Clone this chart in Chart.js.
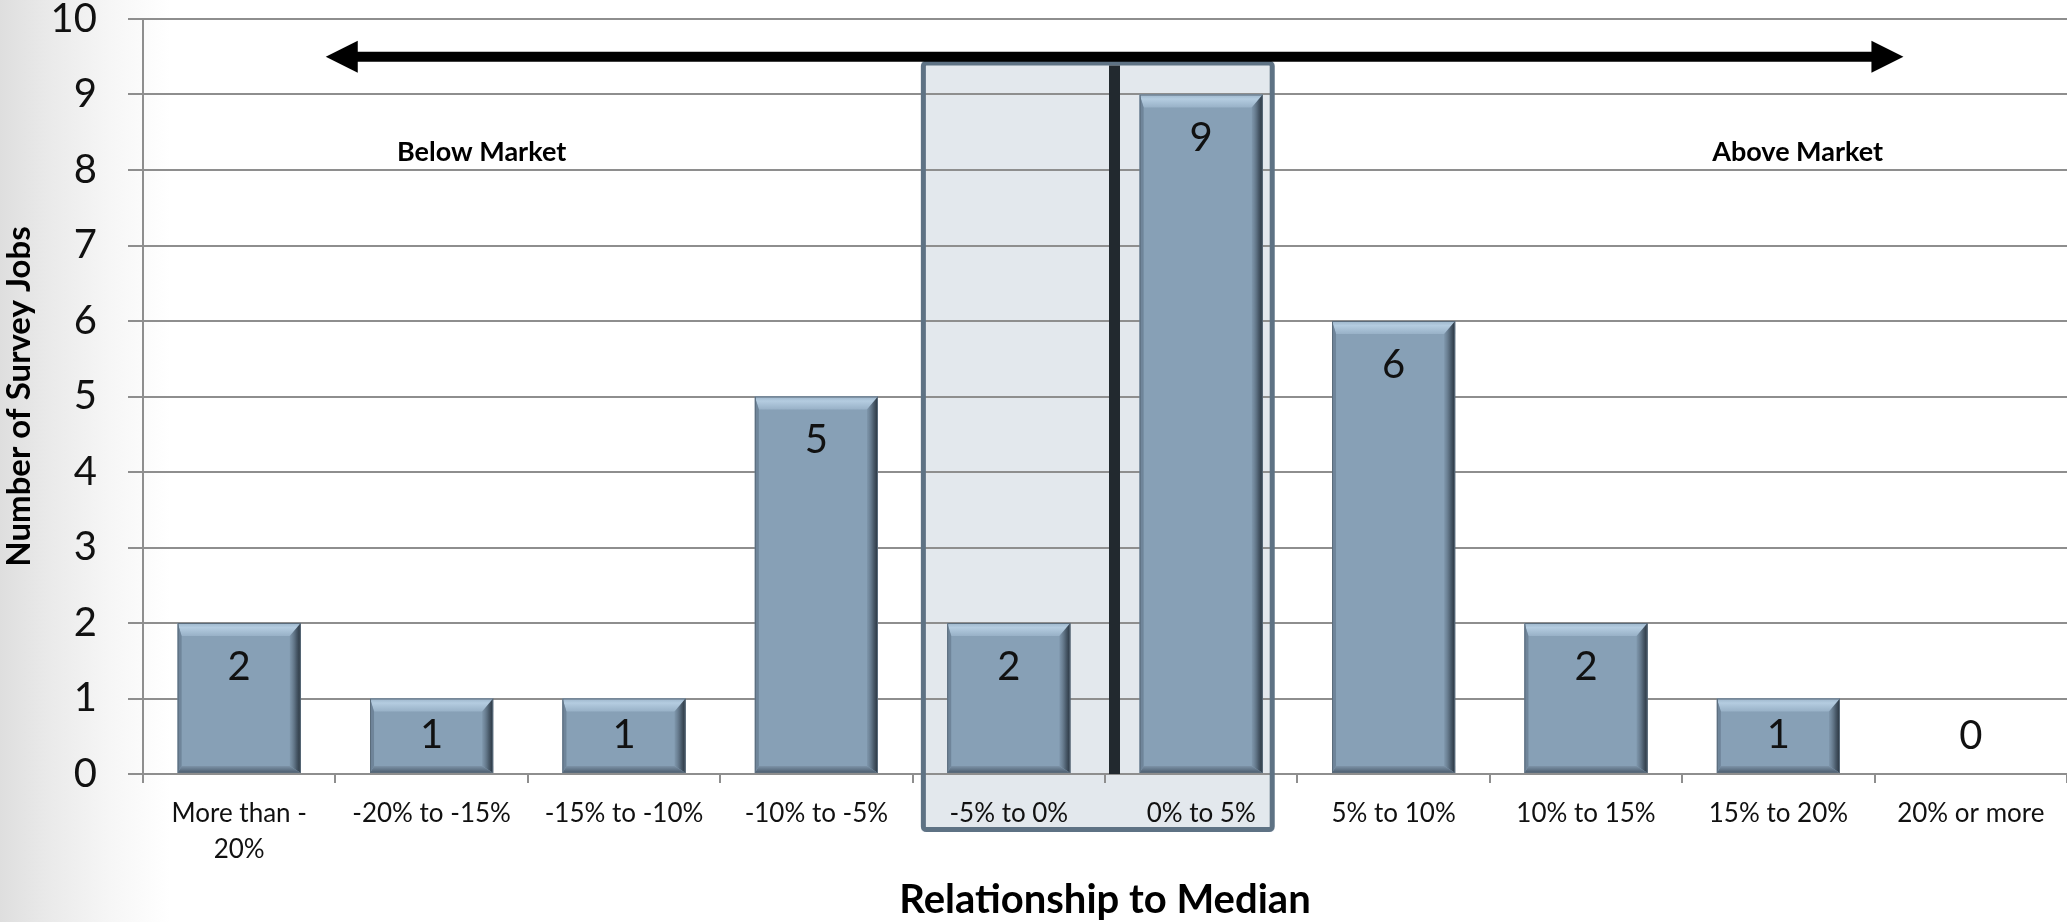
<!DOCTYPE html>
<html>
<head>
<meta charset="utf-8">
<script src="https://cdn.jsdelivr.net/npm/chart.js@4.4.0/dist/chart.umd.min.js"></script>
<style>
  html, body { margin: 0; padding: 0; }
  body {
    width: 2067px; height: 922px; overflow: hidden;
    background: linear-gradient(90deg, #dedede 0px, #e9e9e9 45px, #f6f6f6 110px, #ffffff 170px);
  }
  #wrap { width: 2067px; height: 922px; }
</style>
</head>
<body>
<div id="wrap"><canvas id="jobsChart" width="2067" height="922"></canvas></div>
<script>
// categories along the x axis (relationship to market median)
const categories = [
  ['More than -', '20%'], '-20% to -15%', '-15% to -10%', '-10% to -5%', '-5% to 0%',
  '0% to 5%', '5% to 10%', '10% to 15%', '15% to 20%', '20% or more'
];
// number of survey jobs per band
const jobCounts = [2, 1, 1, 5, 2, 9, 6, 2, 1, 0];
const yTicks = [0, 1, 2, 3, 4, 5, 6, 7, 8, 9, 10];

// annotation placement (in category index / value units)
const bandFrom = 4, bandTo = 5;        // highlighted "near median" bands
const arrowLevel = 9.5;
const arrowFrom = 0.45, arrowTo = 8.65;
const noteLevel = 8.23;
const notes = [
  { text: 'Below Market', at: 1.26 },
  { text: 'Above Market', at: 8.1 }
];

const FONT = 'Lato, "Open Sans", sans-serif';

// light box behind the two bands around the median
const bandBackdrop = {
  id: 'bandBackdrop',
  beforeDraw(chart) {
    const b = bandBox(chart);
    const ctx = chart.ctx;
    ctx.save();
    ctx.fillStyle = '#e3e8ed';
    ctx.beginPath();
    ctx.roundRect(b.l, b.t, b.r - b.l, b.b - b.t, 4);
    ctx.fill();
    ctx.restore();
  }
};

function bandBox(chart) {
  const xs = chart.scales.x, ys = chart.scales.y;
  const c4 = xs.getPixelForValue(bandFrom), c5 = xs.getPixelForValue(bandTo);
  const cw = c5 - c4;
  return {
    l: c4 - 0.457 * cw,
    r: c5 + 0.382 * cw,
    t: ys.getPixelForValue(9.45),
    b: ys.bottom + 58,
    mid: (c4 + c5) / 2 + 10
  };
}

// bevel look on the bars, value labels and the annotations
const decorations = {
  id: 'decorations',
  afterDatasetsDraw(chart) {
    const ctx = chart.ctx;
    const xs = chart.scales.x, ys = chart.scales.y;
    const meta = chart.getDatasetMeta(0);

    meta.data.forEach((bar, i) => {
      const p = bar.getProps(['x', 'y', 'base', 'width']);
      const l = p.x - p.width / 2, r = p.x + p.width / 2, t = p.y, b = p.base;
      if (b - t > 2) {
        const d = 13, dr = 11, db = 7, dl = 4;
        ctx.save();
        // top bevel
        let g = ctx.createLinearGradient(0, t, 0, t + d);
        g.addColorStop(0, '#9db6cb');
        g.addColorStop(0.35, '#b4cce0');
        g.addColorStop(1, '#98b1c7');
        ctx.fillStyle = g;
        ctx.beginPath();
        ctx.moveTo(l, t); ctx.lineTo(r, t); ctx.lineTo(r - dr, t + d); ctx.lineTo(l + dl, t + d);
        ctx.closePath(); ctx.fill();
        // right bevel
        g = ctx.createLinearGradient(r - dr, 0, r, 0);
        g.addColorStop(0, 'rgba(120,143,164,0.6)');
        g.addColorStop(0.6, '#4b5c6c');
        g.addColorStop(1, '#27323d');
        ctx.fillStyle = g;
        ctx.beginPath();
        ctx.moveTo(r, t); ctx.lineTo(r, b); ctx.lineTo(r - dr, b - db); ctx.lineTo(r - dr, t + d);
        ctx.closePath(); ctx.fill();
        // bottom bevel
        g = ctx.createLinearGradient(0, b - db, 0, b);
        g.addColorStop(0, '#7d93a8');
        g.addColorStop(1, '#4a5b6c');
        ctx.fillStyle = g;
        ctx.beginPath();
        ctx.moveTo(l, b); ctx.lineTo(r, b); ctx.lineTo(r - dr, b - db); ctx.lineTo(l + dl, b - db);
        ctx.closePath(); ctx.fill();
        // left bevel
        ctx.fillStyle = '#6f859a';
        ctx.beginPath();
        ctx.moveTo(l, t); ctx.lineTo(l + dl, t + d); ctx.lineTo(l + dl, b - db); ctx.lineTo(l, b);
        ctx.closePath(); ctx.fill();
        // outline
        ctx.strokeStyle = '#5a6b7b';
        ctx.lineWidth = 1;
        ctx.strokeRect(l + 0.5, t + 0.5, r - l - 1, b - t - 1);
        ctx.restore();
      }
      // value label, inside the end of the bar
      ctx.save();
      ctx.font = '40px ' + FONT;
      ctx.fillStyle = '#111111';
      ctx.textAlign = 'center';
      ctx.textBaseline = 'middle';
      const ly = Math.min(t + 44, b - 38);
      ctx.fillText(String(jobCounts[i]), p.x, ly);
      ctx.restore();
    });

    const box = bandBox(chart);
    ctx.save();
    // band outline
    ctx.strokeStyle = '#5e7284';
    ctx.lineWidth = 5;
    ctx.beginPath();
    ctx.roundRect(box.l + 2.5, box.t + 2.5, box.r - box.l - 5, box.b - box.t - 5, 3);
    ctx.stroke();
    // median line
    ctx.fillStyle = '#22292f';
    ctx.fillRect(box.mid - 6, box.t + 5, 11, ys.bottom - box.t - 5);

    // double headed arrow
    const ay = ys.getPixelForValue(arrowLevel);
    const ax1 = xs.getPixelForValue(arrowFrom), ax2 = xs.getPixelForValue(arrowTo);
    const hl = 32, hh = 16, lw = 10;
    ctx.fillStyle = '#000000';
    ctx.fillRect(ax1 + hl - 2, ay - lw / 2, ax2 - ax1 - 2 * hl + 4, lw);
    ctx.beginPath();
    ctx.moveTo(ax1, ay); ctx.lineTo(ax1 + hl, ay - hh); ctx.lineTo(ax1 + hl, ay + hh); ctx.closePath();
    ctx.fill();
    ctx.beginPath();
    ctx.moveTo(ax2, ay); ctx.lineTo(ax2 - hl, ay - hh); ctx.lineTo(ax2 - hl, ay + hh); ctx.closePath();
    ctx.fill();

    // market notes
    ctx.font = 'bold 27px ' + FONT;
    ctx.textAlign = 'center';
    ctx.textBaseline = 'middle';
    notes.forEach(n => {
      ctx.fillText(n.text, xs.getPixelForValue(n.at), ys.getPixelForValue(noteLevel));
    });
    ctx.restore();
  }
};

const chartData = {
  labels: categories,
  datasets: [{
    label: 'Survey Jobs',
    data: jobCounts,
    backgroundColor: '#87a0b6',
    borderWidth: 0,
    categoryPercentage: 0.64,
    barPercentage: 1.0
  }]
};

const chartConfig = {
  type: 'bar',
  data: chartData,
  options: {
    responsive: false,
    animation: false,
    layout: { padding: { top: 19, right: 0, bottom: 0, left: 0 } },
    plugins: {
      legend: { display: false },
      tooltip: { enabled: false }
    },
    scales: {
      x: {
        grid: {
          display: true,
          drawOnChartArea: false,
          drawTicks: true,
          tickLength: 9,
          color: '#8e8e8e',
          lineWidth: 2,
          offset: true
        },
        border: { display: true, color: '#8e8e8e', width: 2 },
        ticks: {
          color: '#111111',
          padding: 12,
          maxRotation: 0,
          autoSkip: false,
          font: { family: FONT, size: 26, lineHeight: 1.4 }
        },
        title: {
          display: true,
          text: 'Relationship to Median',
          color: '#000000',
          font: { family: FONT, size: 40, weight: 'bold', lineHeight: 1.1 },
          padding: { top: 0, bottom: 0 }
        },
        afterFit(scale) { scale.height = 148; scale.paddingLeft = 0; scale.paddingRight = 0; }
      },
      y: {
        min: 0,
        max: 10,
        afterBuildTicks(scale) { scale.ticks = yTicks.map(v => ({ value: v })); },
        grid: {
          color: '#8e8e8e',
          lineWidth: 2,
          drawTicks: true,
          tickLength: 15
        },
        border: { display: true, color: '#8e8e8e', width: 2 },
        ticks: {
          color: '#111111',
          padding: 31,
          font: { family: FONT, size: 40, lineHeight: 1.0 }
        },
        title: {
          display: true,
          text: 'Number of Survey Jobs',
          color: '#000000',
          font: { family: FONT, size: 33, weight: 'bold', lineHeight: 1.2 },
          padding: { top: 0, bottom: 0 }
        },
        afterFit(scale) { scale.width = 143; scale.paddingTop = 0; scale.paddingBottom = 0; }
      }
    }
  },
  plugins: [bandBackdrop, decorations]
};

const myChart = new Chart(document.getElementById('jobsChart'), chartConfig);
</script>
</body>
</html>
